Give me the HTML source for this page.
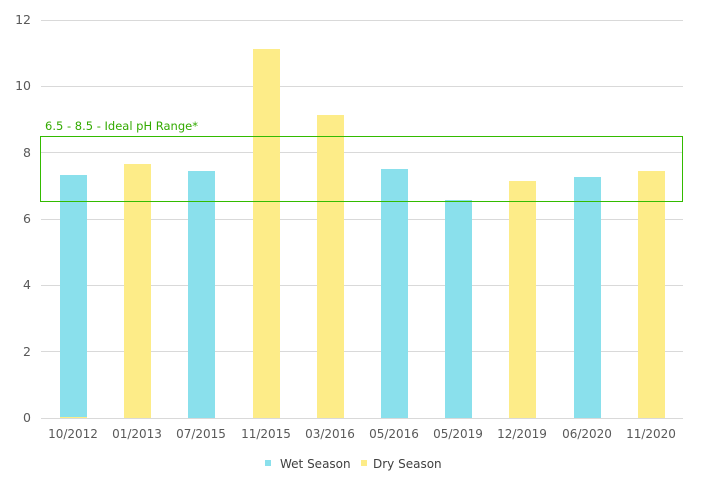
<!DOCTYPE html>
<html><head><style>body{margin:0;background:#fff}svg{display:block}text{font-family:"DejaVu Sans","Liberation Sans",sans-serif}</style></head><body>
<svg width="702" height="498" viewBox="0 0 702 498">
<g stroke="#d9d9d9" stroke-width="1">
<line x1="41" x2="683" y1="20.5" y2="20.5"/><line x1="41" x2="683" y1="86.5" y2="86.5"/><line x1="41" x2="683" y1="152.5" y2="152.5"/><line x1="41" x2="683" y1="219.5" y2="219.5"/><line x1="41" x2="683" y1="285.5" y2="285.5"/><line x1="41" x2="683" y1="351.5" y2="351.5"/><line x1="41" x2="683" y1="418.5" y2="418.5"/>
</g>
<g font-size="12.5" fill="#595959" text-anchor="end">
<text x="31" y="24">12</text><text x="31" y="90">10</text><text x="31" y="157">8</text><text x="31" y="223">6</text><text x="31" y="289">4</text><text x="31" y="356">2</text><text x="31" y="422">0</text>
</g>
<g>
<rect x="60" y="175" width="27" height="243" fill="#8ae0ec"/>
<rect x="60" y="417" width="27" height="1" fill="#fdec88"/>
<rect x="124" y="164" width="27" height="254" fill="#fdec88"/>
<rect x="188" y="171" width="27" height="247" fill="#8ae0ec"/>
<rect x="253" y="49" width="27" height="369" fill="#fdec88"/>
<rect x="317" y="115" width="27" height="303" fill="#fdec88"/>
<rect x="381" y="169" width="27" height="249" fill="#8ae0ec"/>
<rect x="445" y="200" width="27" height="218" fill="#8ae0ec"/>
<rect x="509" y="181" width="27" height="237" fill="#fdec88"/>
<rect x="574" y="177" width="27" height="241" fill="#8ae0ec"/>
<rect x="638" y="171" width="27" height="247" fill="#fdec88"/>
</g>
<rect x="40.5" y="136.5" width="642" height="65" fill="none" stroke="#33bb00" stroke-width="1"/>
<text x="45" y="130" font-size="11.5" fill="#33aa00">6.5 - 8.5 - Ideal pH Range*</text>
<g font-size="12" fill="#595959" text-anchor="middle">
<text x="73" y="438">10/2012</text><text x="137" y="438">01/2013</text><text x="201" y="438">07/2015</text><text x="266" y="438">11/2015</text><text x="330" y="438">03/2016</text><text x="394" y="438">05/2016</text><text x="458" y="438">05/2019</text><text x="522" y="438">12/2019</text><text x="587" y="438">06/2020</text><text x="651" y="438">11/2020</text>
</g>
<rect x="265" y="460" width="6" height="6" fill="#8ae0ec"/>
<text x="280" y="468" font-size="12" fill="#404040">Wet Season</text>
<rect x="361" y="460" width="6" height="6" fill="#fdec88"/>
<text x="373" y="468" font-size="12" fill="#404040">Dry Season</text>
</svg>
</body></html>
